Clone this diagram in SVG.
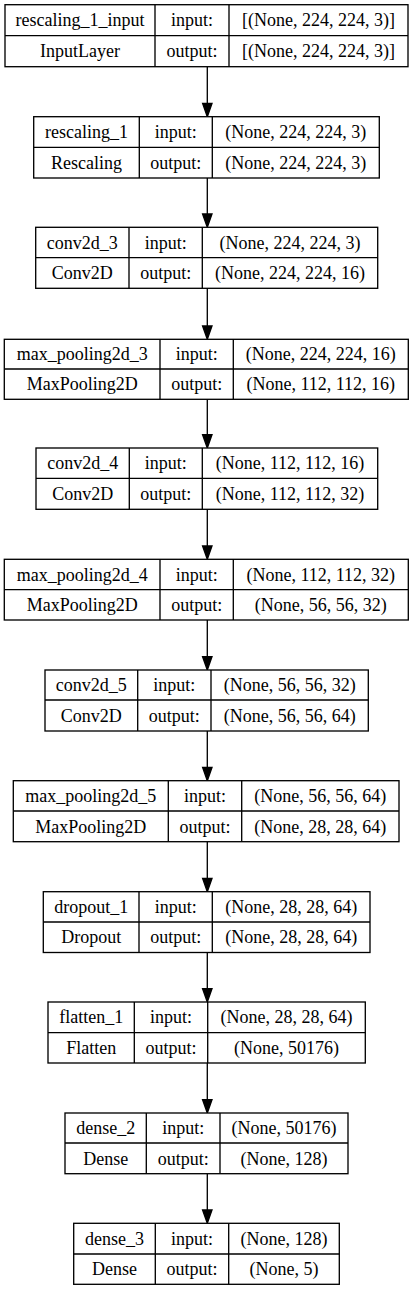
<svg xmlns="http://www.w3.org/2000/svg" width="413" height="1291" viewBox="0 0 413 1291">
<style>
.b{fill:#fff;stroke:#000;stroke-width:1.33}
.l{stroke:#000;stroke-width:1.33;fill:none}
text{font-family:"Liberation Serif","Times New Roman",serif;font-size:18px;fill:#000;text-anchor:middle}
.e{stroke:#000;stroke-width:1.33;fill:none}
.h{fill:#000;stroke:#000;stroke-width:1.33}
</style>
<rect width="413" height="1291" fill="#fff"/>
<g id="connectors">
<path class="e" d="M207.3,66.7V103.4"/><polygon class="h" points="202.6,103.4 207.3,116.7 212,103.4"/>
<path class="e" d="M207.3,178V214"/><polygon class="h" points="202.6,214 207.3,227.3 212,214"/>
<path class="e" d="M207.3,288.3V326"/><polygon class="h" points="202.6,326 207.3,339.3 212,326"/>
<path class="e" d="M207.3,399.3V434.7"/><polygon class="h" points="202.6,434.7 207.3,448 212,434.7"/>
<path class="e" d="M207.3,509.3V546"/><polygon class="h" points="202.6,546 207.3,559.3 212,546"/>
<path class="e" d="M207.3,620V656.7"/><polygon class="h" points="202.6,656.7 207.3,670 212,656.7"/>
<path class="e" d="M207.3,731V767.4"/><polygon class="h" points="202.6,767.4 207.3,780.7 212,767.4"/>
<path class="e" d="M207.3,841.7V878.4"/><polygon class="h" points="202.6,878.4 207.3,891.7 212,878.4"/>
<path class="e" d="M207.3,952.5V988.7"/><polygon class="h" points="202.6,988.7 207.3,1002 212,988.7"/>
<path class="e" d="M207.3,1063V1099.7"/><polygon class="h" points="202.6,1099.7 207.3,1113 212,1099.7"/>
<path class="e" d="M207.3,1173.7V1210"/><polygon class="h" points="202.6,1210 207.3,1223.3 212,1210"/>
</g>
<g id="rescaling_1_input">
<rect class="b" x="5" y="4.7" width="403" height="62"/>
<path class="l" d="M5,35.7H408M155,4.7V66.7M229,4.7V66.7"/>
<text x="80" y="26.2">rescaling_1_input</text><text x="192" y="26.2">input:</text><text x="318.5" y="26.2">[(None, 224, 224, 3)]</text>
<text x="80" y="57.2">InputLayer</text><text x="192" y="57.2">output:</text><text x="318.5" y="57.2">[(None, 224, 224, 3)]</text>
</g>
<g id="rescaling_1">
<rect class="b" x="33.7" y="116.7" width="345.6" height="61.3"/>
<path class="l" d="M33.7,147.3H379.3M139.3,116.7V178M212.3,116.7V178"/>
<text x="86.5" y="138">rescaling_1</text><text x="175.8" y="138">input:</text><text x="295.8" y="138">(None, 224, 224, 3)</text>
<text x="86.5" y="168.7">Rescaling</text><text x="175.8" y="168.7">output:</text><text x="295.8" y="168.7">(None, 224, 224, 3)</text>
</g>
<g id="conv2d_3">
<rect class="b" x="35.7" y="227.3" width="342" height="61"/>
<path class="l" d="M35.7,257.7H377.7M129,227.3V288.3M202.3,227.3V288.3"/>
<text x="82.3" y="248.6">conv2d_3</text><text x="165.7" y="248.6">input:</text><text x="290" y="248.6">(None, 224, 224, 3)</text>
<text x="82.3" y="279.2">Conv2D</text><text x="165.7" y="279.2">output:</text><text x="290" y="279.2">(None, 224, 224, 16)</text>
</g>
<g id="max_pooling2d_3">
<rect class="b" x="4.3" y="339.3" width="404" height="60"/>
<path class="l" d="M4.3,369H408.3M160,339.3V399.3M233.3,339.3V399.3"/>
<text x="82.2" y="360.3">max_pooling2d_3</text><text x="196.7" y="360.3">input:</text><text x="320.8" y="360.3">(None, 224, 224, 16)</text>
<text x="82.2" y="390.3">MaxPooling2D</text><text x="196.7" y="390.3">output:</text><text x="320.8" y="390.3">(None, 112, 112, 16)</text>
</g>
<g id="conv2d_4">
<rect class="b" x="36" y="448" width="341.7" height="61.3"/>
<path class="l" d="M36,478.3H377.7M129.3,448V509.3M202.3,448V509.3"/>
<text x="82.7" y="469.3">conv2d_4</text><text x="165.8" y="469.3">input:</text><text x="290" y="469.3">(None, 112, 112, 16)</text>
<text x="82.7" y="500">Conv2D</text><text x="165.8" y="500">output:</text><text x="290" y="500">(None, 112, 112, 32)</text>
</g>
<g id="max_pooling2d_4">
<rect class="b" x="4.3" y="559.3" width="404" height="60.7"/>
<path class="l" d="M4.3,589.7H408.3M160,559.3V620M233.3,559.3V620"/>
<text x="82.2" y="580.6">max_pooling2d_4</text><text x="196.7" y="580.6">input:</text><text x="320.8" y="580.6">(None, 112, 112, 32)</text>
<text x="82.2" y="611">MaxPooling2D</text><text x="196.7" y="611">output:</text><text x="320.8" y="611">(None, 56, 56, 32)</text>
</g>
<g id="conv2d_5">
<rect class="b" x="45" y="670" width="323.3" height="61"/>
<path class="l" d="M45,700H368.3M137.7,670V731M211,670V731"/>
<text x="91.3" y="691.2">conv2d_5</text><text x="174.3" y="691.2">input:</text><text x="289.7" y="691.2">(None, 56, 56, 32)</text>
<text x="91.3" y="721.7">Conv2D</text><text x="174.3" y="721.7">output:</text><text x="289.7" y="721.7">(None, 56, 56, 64)</text>
</g>
<g id="max_pooling2d_5">
<rect class="b" x="13.3" y="780.7" width="385.7" height="61"/>
<path class="l" d="M13.3,811H399M168.3,780.7V841.7M241.7,780.7V841.7"/>
<text x="90.8" y="802">max_pooling2d_5</text><text x="205" y="802">input:</text><text x="320.3" y="802">(None, 56, 56, 64)</text>
<text x="90.8" y="832.5">MaxPooling2D</text><text x="205" y="832.5">output:</text><text x="320.3" y="832.5">(None, 28, 28, 64)</text>
</g>
<g id="dropout_1">
<rect class="b" x="43.3" y="891.7" width="326.7" height="60.8"/>
<path class="l" d="M43.3,922H370M139,891.7V952.5M212.3,891.7V952.5"/>
<text x="91.2" y="913">dropout_1</text><text x="175.7" y="913">input:</text><text x="291.2" y="913">(None, 28, 28, 64)</text>
<text x="91.2" y="943.4">Dropout</text><text x="175.7" y="943.4">output:</text><text x="291.2" y="943.4">(None, 28, 28, 64)</text>
</g>
<g id="flatten_1">
<rect class="b" x="48" y="1002" width="317.3" height="61"/>
<path class="l" d="M48,1032.7H365.3M134.3,1002V1063M207.7,1002V1063"/>
<text x="91.2" y="1023.4">flatten_1</text><text x="171" y="1023.4">input:</text><text x="286.5" y="1023.4">(None, 28, 28, 64)</text>
<text x="91.2" y="1054">Flatten</text><text x="171" y="1054">output:</text><text x="286.5" y="1054">(None, 50176)</text>
</g>
<g id="dense_2">
<rect class="b" x="65" y="1113" width="283" height="60.7"/>
<path class="l" d="M65,1143H348M146.3,1113V1173.7M220,1113V1173.7"/>
<text x="105.7" y="1134.2">dense_2</text><text x="183.2" y="1134.2">input:</text><text x="284" y="1134.2">(None, 50176)</text>
<text x="105.7" y="1164.6">Dense</text><text x="183.2" y="1164.6">output:</text><text x="284" y="1164.6">(None, 128)</text>
</g>
<g id="dense_3">
<rect class="b" x="73.7" y="1223.3" width="265.6" height="61"/>
<path class="l" d="M73.7,1254H339.3M155.3,1223.3V1284.3M228.7,1223.3V1284.3"/>
<text x="114.5" y="1244.7">dense_3</text><text x="192" y="1244.7">input:</text><text x="284" y="1244.7">(None, 128)</text>
<text x="114.5" y="1275.3">Dense</text><text x="192" y="1275.3">output:</text><text x="284" y="1275.3">(None, 5)</text>
</g>
</svg>
